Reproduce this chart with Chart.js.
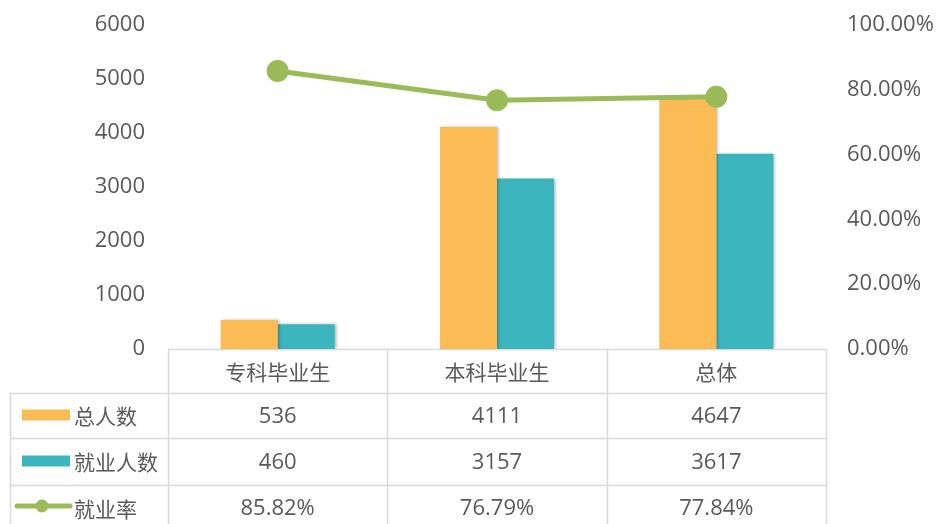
<!DOCTYPE html>
<html>
<head>
<meta charset="utf-8">
<script src="https://cdn.jsdelivr.net/npm/chart.js@4/dist/chart.umd.min.js"></script>
<style>
html,body{margin:0;padding:0;background:#fff;}
#wrap{width:936px;height:524px;position:relative;}
</style>
</head>
<body>
<div id="wrap"><canvas id="c" width="936" height="524"></canvas></div>
<script>
const categories = ['专科毕业生', '本科毕业生', '总体'];
const totalCounts = [536, 4111, 4647];
const employedCounts = [460, 3157, 3617];
const employmentRates = [85.82, 76.79, 77.84];
const seriesNames = ['总人数', '就业人数', '就业率'];
const leftTicks = [0, 1000, 2000, 3000, 4000, 5000, 6000];
const rightTicks = [0, 20, 40, 60, 80, 100];

const FONT = '"Open Sans", "Noto Sans CJK SC", sans-serif';
const CJK = '"Noto Sans CJK SC", sans-serif';
const TXT = '#595959';
const GRID = '#D9D9D9';
const ORANGE = '#FBBB54';
const TEAL = '#3DB5BF';
const GREEN = '#9BBB59';

const tablePlugin = {
  id: 'dataTable',
  beforeDatasetsDraw(chart) {
    const ctx = chart.ctx, ca = chart.chartArea;
    ctx.save();
    ctx.strokeStyle = GRID; ctx.lineWidth = 1.5;
    ctx.beginPath(); ctx.moveTo(ca.left, ca.bottom + 0.5); ctx.lineTo(ca.right, ca.bottom + 0.5); ctx.stroke();
    ctx.restore();
  },
  beforeDatasetDraw(chart, args) {
    if (chart.data.datasets[args.index].type !== 'line') {
      const ctx = chart.ctx;
      ctx.save();
      ctx.shadowColor = 'rgba(0,0,0,0.28)';
      ctx.shadowBlur = 3;
      ctx.shadowOffsetX = 2;
      ctx.shadowOffsetY = 0;
    }
  },
  afterDatasetDraw(chart, args) {
    if (chart.data.datasets[args.index].type !== 'line') chart.ctx.restore();
  },
  afterDraw(chart) {
    const ctx = chart.ctx, ca = chart.chartArea, xs = chart.scales.x;
    const n = categories.length;
    const cw = (ca.right - ca.left) / n;
    const bounds = [];
    for (let i = 0; i <= n; i++) bounds.push(ca.left + cw * i);
    const top = ca.bottom;
    const rowH = [44, 45, 47, 46];
    const ys = [top];
    rowH.forEach(h => ys.push(ys[ys.length - 1] + h));
    const leftX = 10;
    ctx.save();
    ctx.strokeStyle = GRID; ctx.lineWidth = 1.5;
    ctx.beginPath();
    for (let r = 1; r < ys.length; r++) {
      const y = Math.round(ys[r]) + 0.5;
      ctx.moveTo(leftX, y); ctx.lineTo(ca.right, y);
    }
    bounds.forEach(x => { ctx.moveTo(Math.round(x) + 0.5, top); ctx.lineTo(Math.round(x) + 0.5, ys[4]); });
    ctx.moveTo(leftX + 0.5, ys[1]); ctx.lineTo(leftX + 0.5, ys[4]);
    ctx.stroke();

    ctx.fillStyle = TXT;
    ctx.textAlign = 'center'; ctx.textBaseline = 'middle';
    const rows = [
      categories,
      totalCounts.map(String),
      employedCounts.map(String),
      employmentRates.map(v => v.toFixed(2) + '%')
    ];
    rows.forEach((row, r) => {
      const yc = (ys[r] + ys[r + 1]) / 2 + 1;
      ctx.font = (r === 0 ? '21px ' + CJK : '22px ' + FONT);
      row.forEach((t, i) => {
        ctx.fillText(t, xs.getPixelForValue(i), yc);
      });
    });
    ctx.textAlign = 'left';
    ctx.font = '21px ' + CJK;
    const labelX = 74;
    for (let r = 1; r <= 3; r++) {
      const yc = (ys[r] + ys[r + 1]) / 2 + 1;
      if (r === 1 || r === 2) {
        ctx.fillStyle = r === 1 ? ORANGE : TEAL;
        ctx.fillRect(22, yc - 7, 48, 11);
      } else {
        ctx.strokeStyle = GREEN; ctx.lineWidth = 5; ctx.lineCap = 'round';
        ctx.beginPath(); ctx.moveTo(17, yc - 3); ctx.lineTo(70, yc - 3); ctx.stroke();
        ctx.fillStyle = GREEN;
        ctx.beginPath(); ctx.arc(42, yc - 3, 6.5, 0, Math.PI * 2); ctx.fill();
      }
      ctx.fillStyle = TXT;
      ctx.fillText(seriesNames[r - 1], labelX, yc);
    }
    ctx.restore();
  }
};

new Chart(document.getElementById('c'), {
  data: {
    labels: categories,
    datasets: [
      { type: 'line', label: seriesNames[2], data: employmentRates, yAxisID: 'y1',
        borderColor: GREEN, backgroundColor: GREEN, borderWidth: 5,
        pointRadius: 11, pointHoverRadius: 11, pointBorderWidth: 0, order: 0 },
      { type: 'bar', label: seriesNames[0], data: totalCounts, yAxisID: 'y',
        backgroundColor: ORANGE, categoryPercentage: 0.52, barPercentage: 1.0, order: 1 },
      { type: 'bar', label: seriesNames[1], data: employedCounts, yAxisID: 'y',
        backgroundColor: TEAL, categoryPercentage: 0.52, barPercentage: 1.0, order: 1 }
    ]
  },
  options: {
    responsive: false,
    animation: false,
    layout: { autoPadding: false, padding: { top: 25, bottom: 175, left: 0, right: 0 } },
    plugins: { legend: { display: false }, tooltip: { enabled: false } },
    scales: {
      x: { display: false, offset: true },
      y: {
        position: 'left', min: 0, max: 6000,
        afterBuildTicks: a => { a.ticks = leftTicks.map(v => ({ value: v })); },
        afterFit: a => { a.width = 168; a.paddingTop = 0; a.paddingBottom = 0; },
        grid: { display: false, drawTicks: false }, border: { display: false },
        ticks: { padding: 23, color: TXT, font: { size: 22, family: FONT },
          callback: v => String(v) }
      },
      y1: {
        position: 'right', min: 0, max: 100,
        afterBuildTicks: a => { a.ticks = rightTicks.map(v => ({ value: v })); },
        afterFit: a => { a.width = 110; a.paddingTop = 0; a.paddingBottom = 0; },
        grid: { display: false, drawTicks: false }, border: { display: false },
        ticks: { padding: 21, color: TXT, font: { size: 22, family: FONT },
          callback: v => Number(v).toFixed(2) + '%' }
      }
    }
  },
  plugins: [tablePlugin]
});
</script>
</body>
</html>
